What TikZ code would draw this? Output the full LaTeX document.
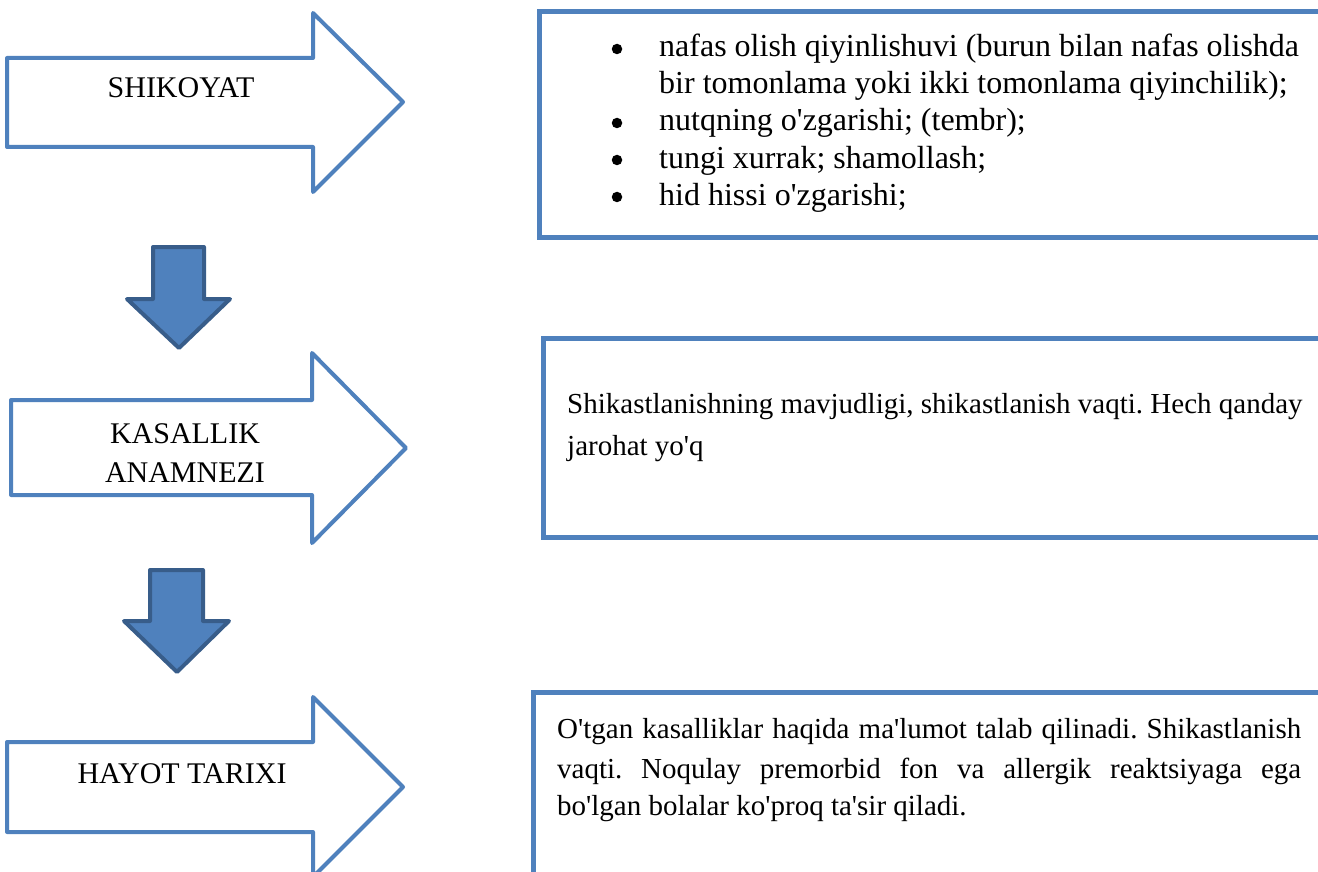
\documentclass[tikz,border=0pt]{standalone}
\usepackage{fontspec}
\setmainfont{Liberation Serif}
\newcommand\ap{\textquotesingle}
\definecolor{outblue}{HTML}{4F81BD}
\definecolor{fillblue}{HTML}{4F81BD}
\definecolor{darkblue}{HTML}{385D8A}
\begin{document}
\frenchspacing
\begin{tikzpicture}[x=1pt,y=-1pt,
  rarrow/.style={draw=outblue,line width=4pt,line join=round,fill=white},
  darrow/.style={draw=darkblue,line width=4pt,line join=round,fill=fillblue},
  infobox/.style={draw=outblue,line width=5pt,fill=white},
  lbl/.style={inner sep=0pt,anchor=base,font=\fontsize{30}{36}\selectfont},
  txtA/.style={inner sep=0pt,anchor=base west,font=\fontsize{32}{37}\selectfont},
  txt/.style={inner sep=0pt,anchor=base west,font=\fontsize{29}{37}\selectfont},
  bul/.style={circle,fill=black,inner sep=0pt,minimum size=10.5pt}]
\useasboundingbox (0,0) rectangle (1318,872);
% right arrows
\draw[rarrow] (7,58) -- (313,58) -- (313,13) -- (403,102) -- (313,192) -- (313,147) -- (7,147) -- cycle;
\draw[rarrow] (11,400) -- (312,400) -- (312,353) -- (406,448) -- (312,543) -- (312,495) -- (11,495) -- cycle;
\draw[rarrow] (7,742) -- (313,742) -- (313,697) -- (403,787) -- (313,877) -- (313,832) -- (7,832) -- cycle;
% down arrows
\draw[darrow] (153,247) -- (204,247) -- (204,299) -- (230,299) -- (179,348) -- (127,299) -- (153,299) -- cycle;
\draw[darrow] (150,570) -- (203,570) -- (203,621) -- (229,621) -- (177,672) -- (124,621) -- (150,621) -- cycle;
% boxes
\draw[infobox] (539,12) rectangle (1340,237);
\draw[infobox] (543,338) rectangle (1340,537);
\draw[infobox] (533,692) rectangle (1340,900);
% arrow labels
\node[lbl] (l1) at (181,98) {SHIKOYAT};
\node[lbl] (l2a) at (185,443) {KASALLIK};
\node[lbl] (l2b) at (185,482) {ANAMNEZI};
\node[lbl] (l3) at (182,783) {HAYOT TARIXI};
% box 1
\node[bul] (d1) at (617,49) {};
\node[txtA] (t1) at (659,57) {nafas olish qiyinlishuvi (burun bilan nafas olishda};
\node[txtA] (t2) at (659,94) {bir tomonlama yoki ikki tomonlama qiyinchilik);};
\node[bul] (d3) at (617,123) {};
\node[txtA] (t3) at (659,131) {nutqning o\ap zgarishi; (tembr);};
\node[bul] (d4) at (617,160) {};
\node[txtA] (t4) at (659,168) {tungi xurrak; shamollash;};
\node[bul] (d5) at (617,197) {};
\node[txtA] (t5) at (659,205) {hid hissi o\ap zgarishi;};
% box 2
\node[txt] (s1) at (567,413) {Shikastlanishning mavjudligi, shikastlanish vaqti. Hech qanday};
\node[txt] (s2) at (567,455) {jarohat yo\ap q};
% box 3
\node[txt] (h1) at (557,738) {\makebox[744pt][s]{O\ap tgan kasalliklar haqida ma\ap lumot talab qilinadi. Shikastlanish}};
\node[txt] (h2) at (557,778) {\makebox[744pt][s]{vaqti. Noqulay premorbid fon va allergik reaktsiyaga ega}};
\node[txt] (h3) at (557,815) {bo\ap lgan bolalar ko\ap proq ta\ap sir qiladi.};
\end{tikzpicture}
\end{document}
